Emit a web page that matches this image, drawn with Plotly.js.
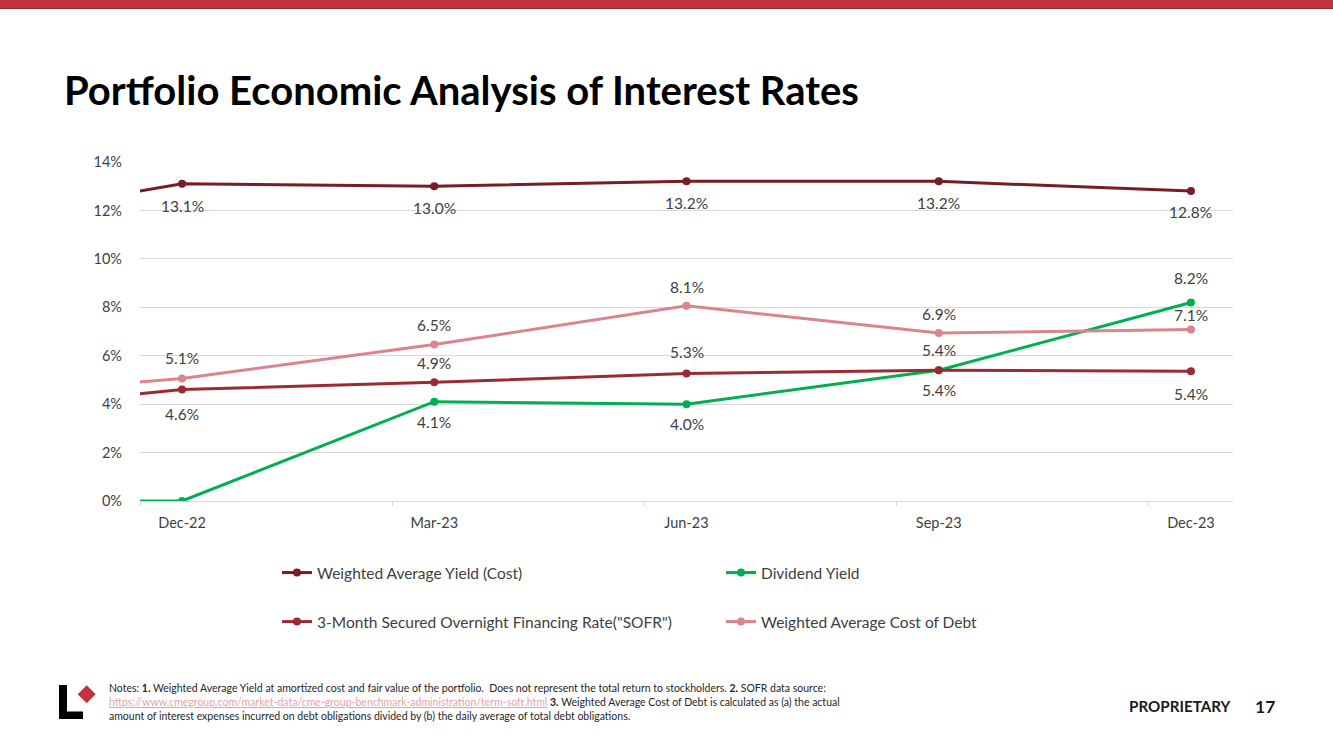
<!DOCTYPE html>
<html>
<head>
<meta charset="utf-8">
<script src="https://cdn.plot.ly/plotly-3.0.1.min.js"></script>
<style>
  html, body { margin: 0; padding: 0; background: #fff; }
  #chart { width: 1333px; height: 749px; }
</style>
</head>
<body>
<div id="chart"></div>
<script>
// ---- data (percent) ----
// Sep-22 lies just outside the visible axis range; only the line segment into Dec-22 shows.
const categories = ["Sep-22", "Dec-22", "Mar-23", "Jun-23", "Sep-23", "Dec-23"];
const weightedAvgYield = [11.3, 13.1, 13.0, 13.2, 13.2, 12.8];
const dividendYield    = [0.0, 0.0, 4.1, 4.0, 5.4, 8.2];
const sofr3m           = [3.6, 4.6, 4.9, 5.27, 5.4, 5.36];
const wtdCostOfDebt    = [4.2, 5.06, 6.46, 8.06, 6.94, 7.08];
const tickLabels = ["Dec-22", "Mar-23", "Jun-23", "Sep-23", "Dec-23"];

// label placement (pixel shift from point; null = no label)
const posWAY  = [null, 22, 22, 22, 22, 21];
const posDIV  = [null, null, 20, 20, 20, -24];
const posSOFR = [null, 24, -19, -21, -20, 23];
const posWACD = [null, -20, -20, -19, -19, -15];

const C_WAY = "#781C25", C_DIV = "#00B050", C_SOFR = "#9C2A35", C_WACD = "#D8858B";
const FONT = "Lato, 'Open Sans', sans-serif";
const idx = categories.map((c, i) => i);

function tr(name, y, color, legend) {
  return {
    type: "scatter", mode: "lines+markers", name: name,
    x: idx, y: y, legend: legend,
    line: { color: color, width: 3 },
    marker: { color: color, size: 8 },
    cliponaxis: true, hoverinfo: "skip"
  };
}
const data = [
  tr("Weighted Average Yield (Cost)", weightedAvgYield, C_WAY, "legend"),
  tr("Dividend Yield", dividendYield, C_DIV, "legend"),
  tr("3-Month Secured Overnight Financing Rate(\"SOFR\")", sofr3m, C_SOFR, "legend2"),
  tr("Weighted Average Cost of Debt", wtdCostOfDebt, C_WACD, "legend2")
];

const annotations = [];
[[weightedAvgYield, posWAY], [dividendYield, posDIV], [sofr3m, posSOFR], [wtdCostOfDebt, posWACD]].forEach(([vals, pos]) => {
  vals.forEach((v, i) => {
    if (pos[i] === null) return;
    annotations.push({
      x: idx[i], y: v, xref: "x", yref: "y", text: v.toFixed(1) + "%",
      showarrow: false, yshift: -pos[i], font: { family: FONT, size: 15.5, color: "#404040" }
    });
  });
});

// pixel -> paper helpers for page decorations
const PL = 140, PR = 1233, PT = 162, PB = 501;
const px = v => (v - PL) / (PR - PL);
const py = v => (PB - v) / (PB - PT);

function note(text, yPix, color) {
  return { xref: "paper", yref: "paper", x: px(107), y: py(yPix), xanchor: "left", yanchor: "middle",
    text: text, showarrow: false, align: "left", font: { family: FONT, size: 10.5, color: color || "#262626" } };
}
annotations.push(
  note("Notes: <b>1.</b> Weighted Average Yield at amortized cost and fair value of the portfolio.  Does not represent the total return to stockholders. <b>2.</b> SOFR data source:", 688),
  note("<span style='color:#E6A3AA;text-decoration:underline'>https://www.cmegroup.com/market-data/cme-group-benchmark-administration/term-sofr.html</span> <b>3.</b> Weighted Average Cost of Debt is calculated as (a) the actual", 702),
  note("amount of interest expenses incurred on debt obligations divided by (b) the daily average of total debt obligations.", 716),
  { xref: "paper", yref: "paper", x: px(1233), y: py(706), xanchor: "right", yanchor: "middle", showarrow: false,
    text: "<b>PROPRIETARY</b>", font: { family: FONT, size: 15.2, color: "#1a1a1a" } },
  { xref: "paper", yref: "paper", x: px(1277), y: py(706), xanchor: "right", yanchor: "middle", showarrow: false,
    text: "<b>17</b>", font: { family: FONT, size: 17.5, color: "#1a1a1a" } }
);

const shapes = [
  { type: "rect", xref: "paper", yref: "paper", x0: px(0), x1: px(1333), y0: py(0), y1: py(8), fillcolor: "#C4323D", line: { width: 0 } },
  { type: "rect", xref: "paper", yref: "paper", x0: px(0), x1: px(1333), y0: py(8), y1: py(9), fillcolor: "#8E2A30", line: { width: 0 } },
  // logo
  { type: "rect", xref: "paper", yref: "paper", x0: px(59), x1: px(67), y0: py(685), y1: py(719), fillcolor: "#000", line: { width: 0 } },
  { type: "rect", xref: "paper", yref: "paper", x0: px(59), x1: px(83), y0: py(711.5), y1: py(719), fillcolor: "#000", line: { width: 0 } },
  { type: "path", xref: "paper", yref: "paper",
    path: `M ${px(86.7)} ${py(685.3)} L ${px(95.7)} ${py(694.3)} L ${px(86.7)} ${py(703.3)} L ${px(77.7)} ${py(694.3)} Z`,
    fillcolor: "#C4323D", line: { width: 0 } }
];

const legendCommon = {
  orientation: "h", xref: "container", yref: "container", x: 277 / 1333,
  xanchor: "left", yanchor: "middle", entrywidth: 399, entrywidthmode: "pixels",
  font: { family: FONT, size: 15.5, color: "#404040" }, bgcolor: "rgba(0,0,0,0)", traceorder: "normal"
};

const layout = {
  width: 1333, height: 749,
  margin: { l: PL, r: 1333 - PR, t: PT, b: 749 - PB, pad: 0 },
  paper_bgcolor: "#fff", plot_bgcolor: "#fff",
  font: { family: FONT, size: 14, color: "#404040" },
  title: { text: "<b>Portfolio Economic Analysis of Interest Rates</b>", xref: "container", yref: "container",
    x: 64 / 1333, xanchor: "left", y: 1 - 91 / 749, yanchor: "middle",
    font: { family: FONT, size: 40, color: "#000" } },
  xaxis: {
    range: [1 - 1 / 6, 5 + 1 / 6], tickvals: idx.slice(1), ticktext: tickLabels,
    showgrid: false, zeroline: false, showline: true, linecolor: "#D9D9D9", linewidth: 1,
    ticks: "", ticklabelstandoff: 9, tickfont: { family: FONT, size: 14.5, color: "#404040" },
    minor: { tick0: 1 - 1 / 6, dtick: 1, ticks: "outside", ticklen: 4, tickcolor: "#D9D9D9", showgrid: false }
  },
  yaxis: {
    range: [0, 14], dtick: 2, ticksuffix: "%", showgrid: true, gridcolor: "#D9D9D9", gridwidth: 1,
    zeroline: false, showline: false, ticks: "", ticklabelstandoff: 17,
    tickfont: { family: FONT, size: 14.5, color: "#404040" }
  },
  legend: Object.assign({}, legendCommon, { y: 1 - 573 / 749 }),
  legend2: Object.assign({}, legendCommon, { y: 1 - 622 / 749 }),
  annotations: annotations,
  shapes: shapes
};

Plotly.newPlot("chart", data, layout, { displayModeBar: false, staticPlot: true });
</script>
</body>
</html>
